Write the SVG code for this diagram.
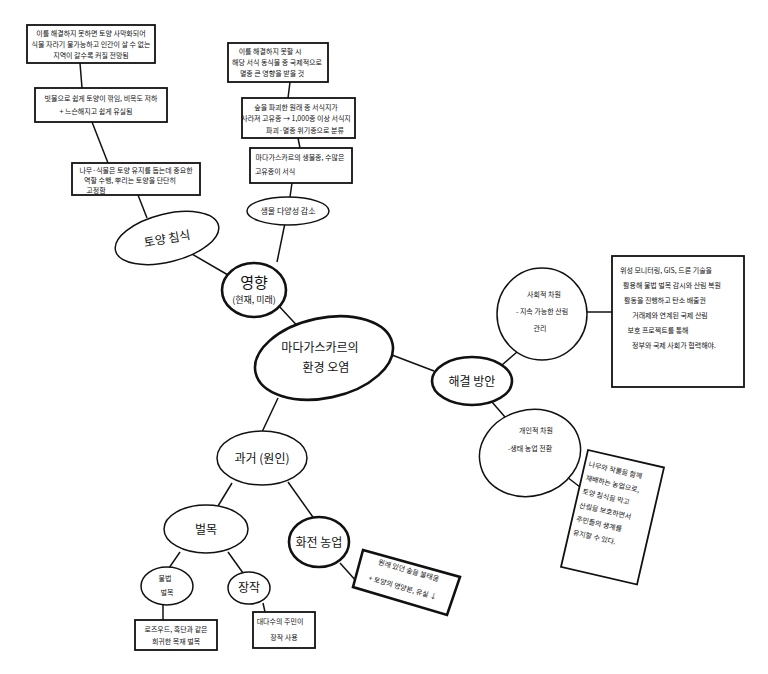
<svg xmlns="http://www.w3.org/2000/svg" width="768" height="674" viewBox="0 0 768 674">
<style>
text{font-family:"Noto Sans CJK KR","Noto Sans",sans-serif;fill:#111;text-anchor:middle}
.n{fill:#fff;stroke:#111;stroke-width:1.5}
.k{fill:#fff;stroke:#111;stroke-width:2.6}
.b{fill:#fff;stroke:#111;stroke-width:1.8}
.s{font-size:7px}
.m{font-size:12px}
.l{font-size:15px}
#edges line{stroke:#111;stroke-width:1.5}
</style>
<rect width="768" height="674" fill="#fff"/>
<g id="edges">
<line x1="80" y1="63" x2="82" y2="88"/>
<line x1="92" y1="122" x2="108" y2="163"/>
<line x1="138" y1="195" x2="147" y2="218"/>
<line x1="185" y1="250" x2="228" y2="275"/>
<line x1="290" y1="82" x2="288" y2="98"/>
<line x1="298" y1="138" x2="300" y2="148"/>
<line x1="292" y1="183" x2="290" y2="197"/>
<line x1="285" y1="223" x2="277" y2="262"/>
<line x1="278" y1="305" x2="303" y2="332"/>
<line x1="392" y1="355" x2="434" y2="371"/>
<line x1="502" y1="365" x2="517" y2="352"/>
<line x1="587" y1="312" x2="612" y2="312"/>
<line x1="492" y1="402" x2="505" y2="417"/>
<line x1="567" y1="477" x2="580" y2="487"/>
<line x1="278" y1="398" x2="262" y2="432"/>
<line x1="232" y1="483" x2="218" y2="506"/>
<line x1="288" y1="482" x2="315" y2="520"/>
<line x1="340" y1="563" x2="357" y2="582"/>
<line x1="180" y1="552" x2="169" y2="568"/>
<line x1="228" y1="552" x2="243" y2="573"/>
<line x1="163" y1="605" x2="163" y2="620"/>
<line x1="263" y1="603" x2="265" y2="612"/>
</g>
<g id="box-desert">
<rect class="b" x="27" y="25" width="128" height="38"/>
<text class="s" x="91" y="36">이를 해결하지 못하면 토양 사막화되어</text>
<text class="s" x="91" y="47">식물 자라기 불가능하고 인간이 살 수 없는</text>
<text class="s" x="91" y="58">지역이 갈수록 커질 전망됨</text>
</g>
<g id="box-rain">
<rect class="b" x="35" y="88" width="132" height="34"/>
<text class="s" x="101" y="101">빗물으로 쉽게 토양이 깎임, 비옥도 저하</text>
<text class="s" x="96" y="114">+ 느슨해지고 쉽게 유실됨</text>
</g>
<g id="box-tree">
<rect class="b" x="72" y="163" width="128" height="32"/>
<text class="s" x="136" y="173">나무·식물은 토양 유지를 돕는데 중요한</text>
<text class="s" x="130" y="183">역할 수행, 뿌리는 토양을 단단히</text>
<text class="s" x="96" y="193">고정함</text>
</g>
<g id="soil-erosion">
<ellipse class="n" cx="167" cy="238" rx="53" ry="24" transform="rotate(-14 167 238)"/>
<text class="m" x="167" y="243" transform="rotate(-10 167 238)">토양 침식</text>
</g>
<g id="box-extinct">
<rect class="b" x="228" y="43" width="100" height="39"/>
<text class="s" x="270" y="54">이를 해결하지 못할 시</text>
<text class="s" x="277" y="65">해당 서식 동식물 종 국제적으로</text>
<text class="s" x="272" y="76">멸종 큰 영향을 받을 것</text>
</g>
<g id="box-habitat">
<rect class="b" x="242" y="98" width="113" height="40"/>
<text class="s" x="296" y="110">숲을 파괴한 원래 종 서식지가</text>
<text class="s" x="296" y="121">사라져 고유종 → 1,000종 이상 서식지</text>
<text class="s" x="305" y="133">파괴·멸종 위기종으로 분류</text>
</g>
<g id="box-endemic">
<rect class="b" x="250" y="148" width="102" height="35"/>
<text class="s" x="300" y="160">마다가스카르의 생물종, 수많은</text>
<text class="s" x="275" y="174">고유종이 서식</text>
</g>
<g id="biodiversity">
<ellipse class="n" cx="288" cy="211" rx="41" ry="14"/>
<text style="font-size:8px" x="288" y="214">생물 다양성 감소</text>
</g>
<g id="impact">
<ellipse class="k" cx="254" cy="290" rx="32" ry="27"/>
<text class="l" x="254" y="288">영향</text>
<text style="font-size:9px" x="254" y="303">(현재, 미래)</text>
</g>
<g id="center">
<ellipse class="k" cx="324" cy="358" rx="70" ry="40" transform="rotate(-12 324 358)"/>
<text class="m" x="320" y="352">마다가스카르의</text>
<text class="m" x="326" y="372">환경 오염</text>
</g>
<g id="solution">
<ellipse class="k" cx="472" cy="381" rx="40" ry="24"/>
<text class="m" x="472" y="386">해결 방안</text>
</g>
<g id="social">
<ellipse class="n" cx="542" cy="314" rx="45" ry="46"/>
<text class="s" x="544" y="297">사회적 차원</text>
<text class="s" x="542" y="314">- 지속 가능한 산림</text>
<text class="s" x="540" y="331">관리</text>
</g>
<g id="box-monitor">
<rect class="b" x="612" y="256" width="132" height="131"/>
<text class="s" x="666" y="273">위성 모니터링, GIS, 드론 기술을</text>
<text class="s" x="672" y="288">활용해 불법 벌목 감시와 산림 복원</text>
<text class="s" x="665" y="303">활동을 진행하고 탄소 배출권</text>
<text class="s" x="670" y="318">거래제와 연계된 국제 산림</text>
<text class="s" x="658" y="333">보호 프로젝트를 통해</text>
<text class="s" x="674" y="348">정부와 국제 사회가 협력해야.</text>
</g>
<g id="personal">
<ellipse class="n" cx="530" cy="453" rx="51" ry="43" transform="rotate(-15 530 453)"/>
<text class="s" x="536" y="433">개인적 차원</text>
<text class="s" x="530" y="451">-생태 농업 전환</text>
</g>
<g id="box-agro">
<g transform="rotate(13 588 450)">
<rect class="b" x="588" y="450" width="78" height="120"/>
<text class="s" x="592" y="466" style="text-anchor:start">나무와 작물을 함께</text>
<text class="s" x="592" y="480" style="text-anchor:start">재배하는 농업으로,</text>
<text class="s" x="592" y="494" style="text-anchor:start">토양 침식을 막고</text>
<text class="s" x="592" y="508" style="text-anchor:start">산림을 보호하면서</text>
<text class="s" x="592" y="522" style="text-anchor:start">주민들의 생계를</text>
<text class="s" x="592" y="536" style="text-anchor:start">유지할 수 있다.</text>
</g>
</g>
<g id="past">
<ellipse class="n" cx="262" cy="458" rx="45" ry="27"/>
<text class="m" x="262" y="463">과거 (원인)</text>
</g>
<g id="logging">
<ellipse class="n" cx="206" cy="529" rx="42" ry="24"/>
<text class="m" x="206" y="534">벌목</text>
</g>
<g id="slash-burn">
<ellipse class="k" cx="319" cy="542" rx="30" ry="25"/>
<text class="m" x="319" y="547">화전 농업</text>
</g>
<g id="box-burn">
<polygon class="k" points="363,550 460,577 447,615 353,587"/>
<text class="s" x="408" y="573" transform="rotate(16 408 573)">원래 있던 숲을 불태움</text>
<text class="s" x="402" y="590" transform="rotate(16 402 590)">+ 토양의 영양분, 유실 ↓</text>
</g>
<g id="illegal">
<ellipse class="n" cx="167" cy="586" rx="26" ry="19"/>
<text class="s" x="165" y="581">불법</text>
<text class="s" x="167" y="595">벌목</text>
</g>
<g id="firewood">
<ellipse class="n" cx="249" cy="588" rx="21" ry="16"/>
<text class="m" x="249" y="592">장작</text>
</g>
<g id="box-wood">
<rect class="b" x="135" y="620" width="82" height="30"/>
<text class="s" x="176" y="632">로즈우드, 흑단과 같은</text>
<text class="s" x="176" y="644">희귀한 목재 벌목</text>
</g>
<g id="box-fuel">
<rect class="b" x="253" y="612" width="62" height="36"/>
<text class="s" x="280" y="624">대다수의 주민이</text>
<text class="s" x="284" y="640">장작 사용</text>
</g>
</svg>
